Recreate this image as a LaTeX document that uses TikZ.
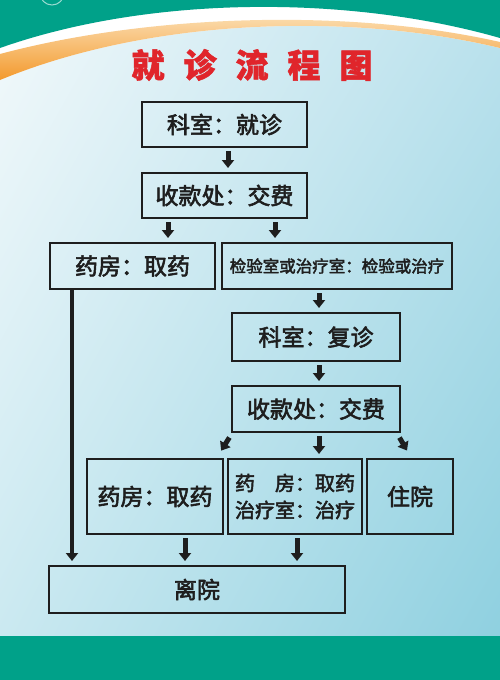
\documentclass[tikz,border=0pt]{standalone}
\usepackage{fontspec}
\setmainfont{Noto Sans CJK SC}
\newfontfamily\boxfont{Noto Sans CJK SC}[FakeBold=2.5]
\newfontfamily\titlefont{Noto Sans CJK SC}[FakeBold=1.5]
\usetikzlibrary{arrows.meta,shadings}
\definecolor{bandgreen}{HTML}{00A189}
\definecolor{titlered}{HTML}{E0252B}
\definecolor{linedark}{HTML}{1E1E1E}
\definecolor{bgleft}{HTML}{F3F9FB}
\definecolor{bgright}{HTML}{BCE2ED}
\definecolor{bglowleft}{HTML}{C8E8F0}
\definecolor{bglowright}{HTML}{8CCFDF}
\definecolor{orangedeep}{HTML}{F39A2E}
\definecolor{orangepale}{HTML}{FCE4BE}
\begin{document}
\begin{tikzpicture}[x=1pt,y=-1pt,
    box/.style={draw=linedark,line width=2pt,text=linedark,inner sep=0pt,
      font=\boxfont\fontsize{23pt}{27pt}\selectfont},
    arr/.style={draw=linedark,line width=5pt,
      -{Triangle[width=12pt,length=8pt]},shorten <=3pt,shorten >=4pt}]
  \useasboundingbox (0,0) rectangle (500,680);
  % background and bands
  \shade[upper left=bgleft,upper right=bgright,lower left=bglowleft,lower right=bglowright]
    (0,0) rectangle (500,680);
  \fill[white] (0,0) -- (0,80) .. controls (150,18) and (350,12) .. (500,48) -- (500,0) -- cycle;
  \shade[top color=orangepale,bottom color=orangedeep]
    (0,54) .. controls (150,14) and (350,8) .. (500,42)
    -- (500,48) .. controls (350,12) and (150,18) .. (0,80) -- cycle;
  \fill[bandgreen] (0,0) -- (0,48) .. controls (150,-5) and (350,-5) .. (500,38) -- (500,0) -- cycle;
  \draw[white!60!bandgreen,line width=1pt] (52,-7) circle (12);
  \fill[bandgreen] (0,636) rectangle (500,680);
  \node[text=titlered,font=\titlefont\fontsize{33pt}{36pt}\selectfont\bfseries] (title) at (252,65)
    {就\hspace{19pt}诊\hspace{19pt}流\hspace{19pt}程\hspace{19pt}图};
  % boxes
  \node[box,minimum width=165,minimum height=45] (ks1) at (224.5,124.5) {科室：就诊};
  \node[box,minimum width=165,minimum height=45] (sk1) at (224.5,195.5) {收款处：交费};
  \node[box,minimum width=165,minimum height=46] (yf1) at (132.5,266) {药房：取药};
  \node[box,minimum width=230,minimum height=46,font=\boxfont\fontsize{16.5pt}{20pt}\selectfont]
    (jy) at (337,266) {检验室或治疗室：检验或治疗};
  \node[box,minimum width=168,minimum height=48] (ks2) at (316,337) {科室：复诊};
  \node[box,minimum width=168,minimum height=46] (sk2) at (316,409) {收款处：交费};
  \node[box,minimum width=136,minimum height=75] (yf2) at (155,496.5) {药房：取药};
  \node[box,minimum width=134,minimum height=75,align=left,
    font=\boxfont\fontsize{20pt}{27pt}\selectfont] (zl) at (295,496.5) {药　房：取药\\治疗室：治疗};
  \node[box,minimum width=86,minimum height=75] (zy) at (410,496.5) {住院};
  \node[box,minimum width=296,minimum height=47] (ly) at (197,589.5) {离院};
  % arrows
  \begin{scope}
    \draw[arr] ([xshift=3.5pt]ks1.south) -- ([xshift=3.5pt]ks1.south |- sk1.north);
    \draw[arr] ([xshift=-56.5pt]sk1.south) -- ([xshift=-56.5pt]sk1.south |- yf1.north);
    \draw[arr] ([xshift=50.5pt]sk1.south) -- ([xshift=50.5pt]sk1.south |- jy.north);
    \draw[arr,line width=4.5pt,shorten <=0pt] ([xshift=-60.5pt]yf1.south) -- ([xshift=-60.5pt]yf1.south |- ly.north);
    \draw[arr] ([xshift=-18pt]jy.south) -- ([xshift=-18pt]jy.south |- ks2.north);
    \draw[arr] ([xshift=3pt]ks2.south) -- ([xshift=3pt]ks2.south |- sk2.north);
    \draw[arr] ([xshift=-85pt,yshift=-2pt]sk2.south) -- ([xshift=64pt,yshift=4pt]yf2.north);
    \draw[arr] ([xshift=3pt]sk2.south) -- ([xshift=3pt]sk2.south |- zl.north);
    \draw[arr] ([xshift=82pt,yshift=-2pt]sk2.south) -- ([xshift=-1pt,yshift=4pt]zy.north);
    \draw[arr] ([xshift=30pt]yf2.south) -- ([xshift=30pt]yf2.south |- ly.north);
    \draw[arr] ([xshift=2pt]zl.south) -- ([xshift=2pt]zl.south |- ly.north);
  \end{scope}
\end{tikzpicture}
\end{document}
